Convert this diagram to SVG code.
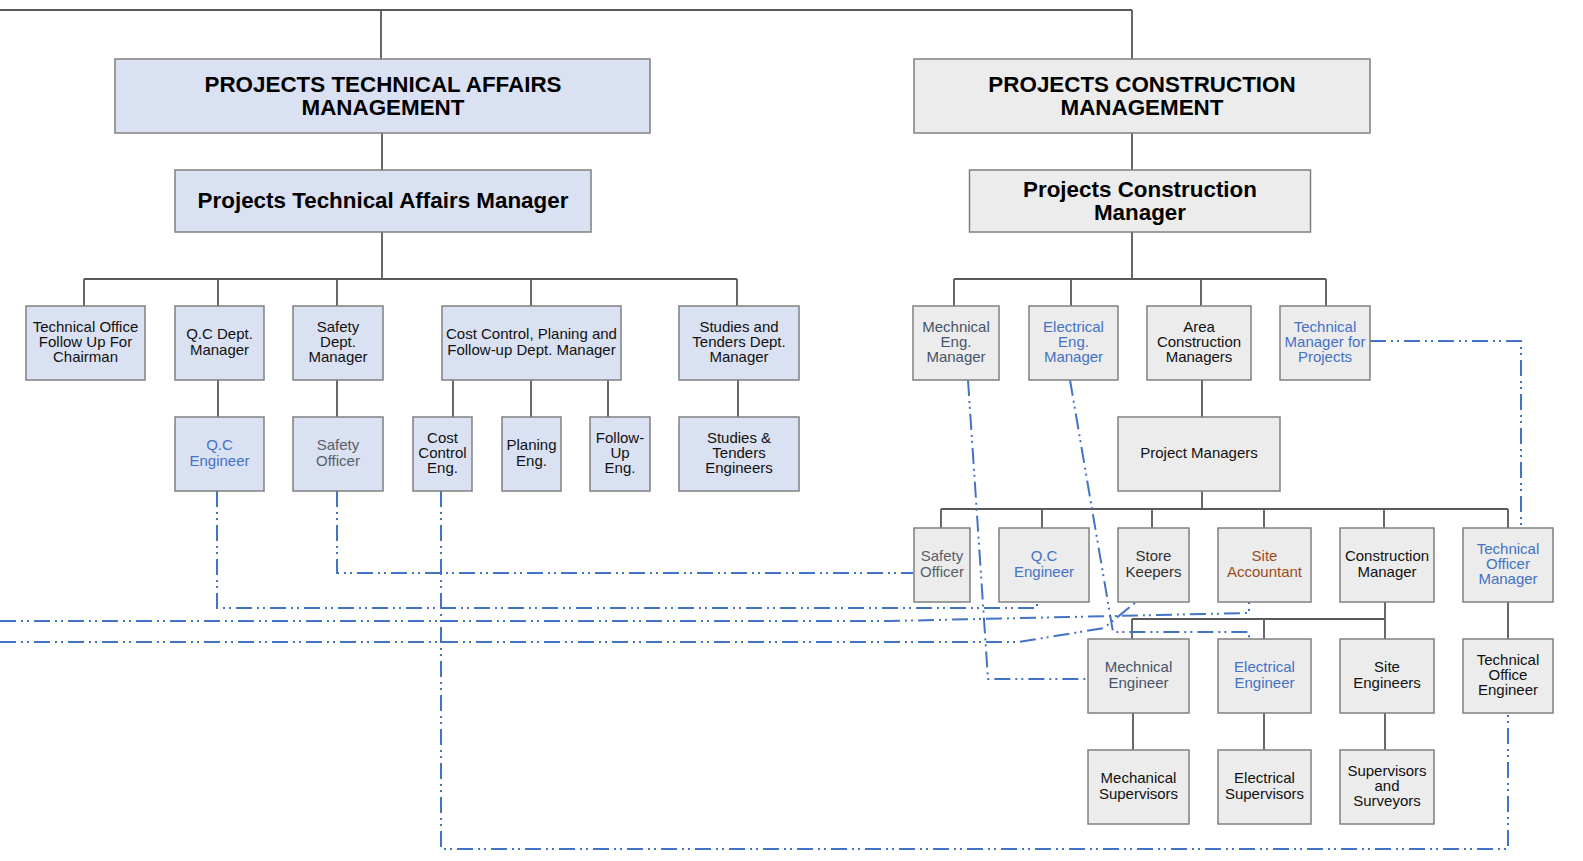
<svg xmlns="http://www.w3.org/2000/svg" width="1583" height="861" viewBox="0 0 1583 861">
<style>
.bl{fill:#dae1f2;stroke:#808080;stroke-width:1.5}
.gr{fill:#ececec;stroke:#808080;stroke-width:1.5}
.c{fill:none;stroke:#595959;stroke-width:1.8}
.d{fill:none;stroke:#4472c4;stroke-width:2;stroke-dasharray:16 5 2 4 2 5}
text{font-family:"Liberation Sans",Arial,sans-serif;font-size:15px;text-anchor:middle;fill:#111}
.h{font-size:22.4px;font-weight:bold;fill:#000}
.blue{fill:#4472c4}
.slate{fill:#44546a}
.gry{fill:#595f6b}
.brn{fill:#9c4b1e}
.dk{fill:#333}
</style>
<rect width="1583" height="861" fill="#fff"/>
<g id="connectors">
<path class="c" d="M0,10H1132M381,10V59M1132,10V59"/>
<path class="c" d="M382,133V170M382,232V279M84,279H737M84,279V306M218,279V306M337,279V306M531,279V306M737,279V306"/>
<path class="c" d="M218,380V417M337,380V417M453,380V417M531,380V417M608,380V417M738,380V417"/>
<path class="c" d="M1132,133V170M1132,232V279M954,279H1326M954,279V306M1071,279V306M1201,279V306M1326,279V306"/>
<path class="c" d="M1202,380V417M1202,491V509M941,509H1508M941,509V528M1042,509V528M1152,509V528M1264,509V528M1384,509V528M1508,509V528"/>
<path class="c" d="M1385,602V619M1132,619H1385M1132,619V639M1264,619V639M1385,619V639M1508,602V639"/>
<path class="c" d="M1133,713V750M1264,713V750M1385,713V750"/>
<path class="d" d="M337,491V573H913"/>
<path class="d" d="M217,491V608H1037V602"/>
<path class="d" d="M0,621H890L1249,613V602"/>
<path class="d" d="M0,642H1019L1104,628L1136,602"/>
<path class="d" d="M441,491V849H1508V713"/>
<path class="d" d="M968,380L988,679H1088"/>
<path class="d" d="M1070,380L1113,632H1249V639"/>
<path class="d" d="M1370,341H1521V528"/>
</g>
<g id="ptam"><rect class="bl" x="115" y="59" width="535" height="74"/><text class="h" x="383" y="92">PROJECTS TECHNICAL AFFAIRS</text><text class="h" x="383" y="115">MANAGEMENT</text></g>
<g id="ptamgr"><rect class="bl" x="175" y="170" width="416" height="62"/><text class="h" x="383" y="208">Projects Technical Affairs Manager</text></g>
<g id="techoffice"><rect class="bl" x="26" y="306" width="119" height="74"/><text x="85.5" y="331.7">Technical Office</text><text x="85.5" y="347">Follow Up For</text><text x="85.5" y="362.3">Chairman</text></g>
<g id="qcdept"><rect class="bl" x="175" y="306" width="89" height="74"/><text x="219.5" y="339.4">Q.C Dept.</text><text x="219.5" y="354.7">Manager</text></g>
<g id="safetydept"><rect class="bl" x="293" y="306" width="90" height="74"/><text x="338" y="331.7">Safety</text><text x="338" y="347">Dept.</text><text x="338" y="362.3">Manager</text></g>
<g id="costdept"><rect class="bl" x="442" y="306" width="179" height="74"/><text x="531.5" y="339.4">Cost Control, Planing and</text><text x="531.5" y="354.7">Follow-up Dept. Manager</text></g>
<g id="studiesdept"><rect class="bl" x="679" y="306" width="120" height="74"/><text x="739" y="331.7">Studies and</text><text x="739" y="347">Tenders Dept.</text><text x="739" y="362.3">Manager</text></g>
<g id="qceng"><rect class="bl" x="175" y="417" width="89" height="74"/><text class="blue" x="219.5" y="450.4">Q.C</text><text class="blue" x="219.5" y="465.7">Engineer</text></g>
<g id="safetyoff"><rect class="bl" x="293" y="417" width="90" height="74"/><text class="gry" x="338" y="450.4">Safety</text><text class="gry" x="338" y="465.7">Officer</text></g>
<g id="costeng"><rect class="bl" x="413" y="417" width="59" height="74"/><text x="442.5" y="442.7">Cost</text><text x="442.5" y="458">Control</text><text x="442.5" y="473.3">Eng.</text></g>
<g id="planeng"><rect class="bl" x="502" y="417" width="59" height="74"/><text x="531.5" y="450.4">Planing</text><text x="531.5" y="465.7">Eng.</text></g>
<g id="followeng"><rect class="bl" x="590" y="417" width="60" height="74"/><text x="620" y="442.7">Follow-</text><text x="620" y="458">Up</text><text x="620" y="473.3">Eng.</text></g>
<g id="studieseng"><rect class="bl" x="679" y="417" width="120" height="74"/><text x="739" y="442.7">Studies &amp;</text><text x="739" y="458">Tenders</text><text x="739" y="473.3">Engineers</text></g>
<g id="pcm"><rect class="gr" x="914" y="59" width="456" height="74"/><text class="h" x="1142" y="92">PROJECTS CONSTRUCTION</text><text class="h" x="1142" y="115">MANAGEMENT</text></g>
<g id="pcmgr"><rect class="gr" x="969.5" y="170" width="341" height="62"/><text class="h" x="1140" y="197">Projects Construction</text><text class="h" x="1140" y="220">Manager</text></g>
<g id="mechmgr"><rect class="gr" x="913" y="306" width="86" height="74"/><text class="slate" x="956" y="331.7">Mechnical</text><text class="slate" x="956" y="347">Eng.</text><text class="slate" x="956" y="362.3">Manager</text></g>
<g id="elecmgr"><rect class="gr" x="1029" y="306" width="89" height="74"/><text class="blue" x="1073.5" y="331.7">Electrical</text><text class="blue" x="1073.5" y="347">Eng.</text><text class="blue" x="1073.5" y="362.3">Manager</text></g>
<g id="areamgr"><rect class="gr" x="1147" y="306" width="104" height="74"/><text x="1199" y="331.7">Area</text><text x="1199" y="347">Construction</text><text x="1199" y="362.3">Managers</text></g>
<g id="techmgr"><rect class="gr" x="1280" y="306" width="90" height="74"/><text class="blue" x="1325" y="331.7">Technical</text><text class="blue" x="1325" y="347">Manager for</text><text class="blue" x="1325" y="362.3">Projects</text></g>
<g id="pm"><rect class="gr" x="1118" y="417" width="162" height="74"/><text x="1199" y="458.3">Project Managers</text></g>
<g id="safety2"><rect class="gr" x="914" y="528" width="56" height="74"/><text class="gry" x="942" y="561.4">Safety</text><text class="gry" x="942" y="576.7">Officer</text></g>
<g id="qc2"><rect class="gr" x="999" y="528" width="90" height="74"/><text class="blue" x="1044" y="561.4">Q.C</text><text class="blue" x="1044" y="576.7">Engineer</text></g>
<g id="store"><rect class="gr" x="1118" y="528" width="71" height="74"/><text class="dk" x="1153.5" y="561.4">Store</text><text class="dk" x="1153.5" y="576.7">Keepers</text></g>
<g id="siteacc"><rect class="gr" x="1218" y="528" width="93" height="74"/><text class="brn" x="1264.5" y="561.4">Site</text><text class="brn" x="1264.5" y="576.7">Accountant</text></g>
<g id="cm"><rect class="gr" x="1340" y="528" width="94" height="74"/><text x="1387" y="561.4">Construction</text><text x="1387" y="576.7">Manager</text></g>
<g id="tom"><rect class="gr" x="1463" y="528" width="90" height="74"/><text class="blue" x="1508" y="553.7">Technical</text><text class="blue" x="1508" y="569">Officer</text><text class="blue" x="1508" y="584.3">Manager</text></g>
<g id="mecheng"><rect class="gr" x="1088" y="639" width="101" height="74"/><text class="slate" x="1138.5" y="672.4">Mechnical</text><text class="slate" x="1138.5" y="687.7">Engineer</text></g>
<g id="eleceng"><rect class="gr" x="1218" y="639" width="93" height="74"/><text class="blue" x="1264.5" y="672.4">Electrical</text><text class="blue" x="1264.5" y="687.7">Engineer</text></g>
<g id="siteeng"><rect class="gr" x="1340" y="639" width="94" height="74"/><text x="1387" y="672.4">Site</text><text x="1387" y="687.7">Engineers</text></g>
<g id="toe"><rect class="gr" x="1463" y="639" width="90" height="74"/><text x="1508" y="664.7">Technical</text><text x="1508" y="680">Office</text><text x="1508" y="695.3">Engineer</text></g>
<g id="mechsup"><rect class="gr" x="1088" y="750" width="101" height="74"/><text x="1138.5" y="783.4">Mechanical</text><text x="1138.5" y="798.7">Supervisors</text></g>
<g id="elecsup"><rect class="gr" x="1218" y="750" width="93" height="74"/><text x="1264.5" y="783.4">Electrical</text><text x="1264.5" y="798.7">Supervisors</text></g>
<g id="supsurv"><rect class="gr" x="1340" y="750" width="94" height="74"/><text x="1387" y="775.7">Supervisors</text><text x="1387" y="791">and</text><text x="1387" y="806.3">Surveyors</text></g>
</svg>
